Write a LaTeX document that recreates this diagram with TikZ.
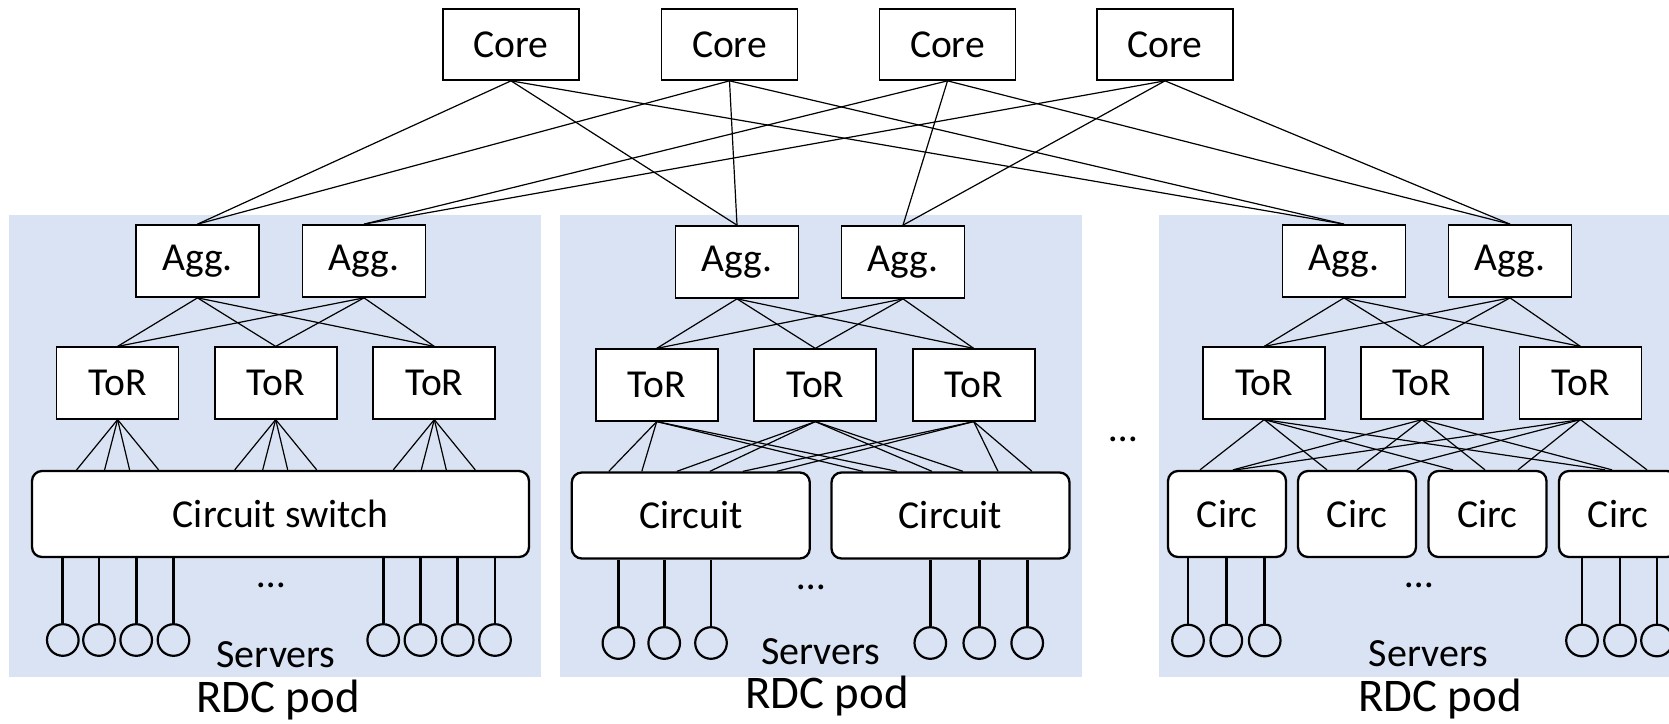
\documentclass[tikz,border=0pt]{standalone}
\usepackage{fontspec}
\setmainfont{Carlito}
\usetikzlibrary{calc}
\definecolor{podfill}{RGB}{218,227,243}

\begin{document}
\begin{tikzpicture}[x=0.5pt,y=-0.5pt,
  box/.style={draw, fill=white, line width=0.85pt, inner sep=0pt, font=\fontsize{19.8}{24}\selectfont},
  corebox/.style={box, minimum width=68pt, minimum height=35.5pt},
  aggbox/.style={box, minimum width=61.5pt, minimum height=36pt},
  torbox/.style={box, minimum width=61pt, minimum height=35.75pt},
  csw/.style={box, rounded corners=5pt, line width=1.15pt, minimum height=43pt},
  srv/.style={circle, draw, line width=1.1pt, minimum size=15.8pt, inner sep=0pt},
  link/.style={line width=0.6pt},
  drop/.style={line width=1.4pt},
  lbl/.style={font=\fontsize{20}{24}\selectfont, inner sep=0pt},
  podlbl/.style={font=\fontsize{23.4}{28}\selectfont, inner sep=0pt}
]
\useasboundingbox (0,0) rectangle (1669,723);
\clip (0,0) rectangle (1669,723);

% pod backgrounds
\fill[podfill] (9,215) rectangle (541,677);
\fill[podfill] (560,215) rectangle (1082,677);
\fill[podfill] (1159,215) rectangle (1675,677);

% core layer
\node[corebox] (c1) at (511,44.5) {Core};
\node[corebox] (c2) at (729.5,44.5) {Core};
\node[corebox] (c3) at (947.5,44.5) {Core};
\node[corebox] (c4) at (1165,44.5) {Core};

% aggregation layer
\node[aggbox] (a11) at (197.5,261) {Agg.};
\node[aggbox] (a12) at (364,261) {Agg.};
\node[aggbox] (a21) at (737,262) {Agg.};
\node[aggbox] (a22) at (903,262) {Agg.};
\node[aggbox] (a31) at (1344,261) {Agg.};
\node[aggbox] (a32) at (1510,261) {Agg.};

% top-of-rack layer
\node[torbox] (t11) at (117.6,383) {ToR};
\node[torbox] (t12) at (275.7,383) {ToR};
\node[torbox] (t13) at (434.3,383) {ToR};
\node[torbox] (t21) at (656.7,385) {ToR};
\node[torbox] (t22) at (815.3,385) {ToR};
\node[torbox] (t23) at (973.7,385) {ToR};
\node[torbox] (t31) at (1264.2,383) {ToR};
\node[torbox] (t32) at (1422,383) {ToR};
\node[torbox] (t33) at (1580.4,383) {ToR};

% circuit switches
\node[csw, minimum width=248.5pt] (s1) at (280.5,514) {Circuit switch};
\node[csw, minimum width=119pt] (s21) at (690.8,515.5) {Circuit};
\node[csw, minimum width=119pt] (s22) at (950.5,515.5) {Circuit};
\node[csw, minimum width=59pt] (s31) at (1227,514) {Circ};
\node[csw, minimum width=59pt] (s32) at (1357,514) {Circ};
\node[csw, minimum width=59pt] (s33) at (1487.5,514) {Circ};
\node[csw, minimum width=59pt] (s34) at (1618,514) {Circ};

% servers
\foreach \i/\x in {1/62.8,2/99,3/136.2,4/173.5} {
  \node[srv] (v1\i) at (\x,640) {};
  \draw[drop] (v1\i.north) -- (v1\i.north |- s1.south);
}
\foreach \i/\x in {5/383.2,6/420.4,7/457.7,8/495} {
  \node[srv] (v1\i) at (\x,640) {};
  \draw[drop] (v1\i.north) -- (v1\i.north |- s1.south);
}
\foreach \i/\x in {1/618.4,2/664.2,3/711} {
  \node[srv] (v2\i) at (\x,643) {};
  \draw[drop] (v2\i.north) -- (v2\i.north |- s21.south);
}
\foreach \i/\x in {4/930.3,5/979.3,6/1027.2} {
  \node[srv] (v2\i) at (\x,643) {};
  \draw[drop] (v2\i.north) -- (v2\i.north |- s22.south);
}
\foreach \i/\x in {1/1188,2/1226.3,3/1264.7} {
  \node[srv] (v3\i) at (\x,640.5) {};
  \draw[drop] (v3\i.north) -- (v3\i.north |- s31.south);
}
\foreach \i/\x in {4/1582,5/1620,6/1657} {
  \node[srv] (v3\i) at (\x,640.5) {};
  \draw[drop] (v3\i.north) -- (v3\i.north |- s34.south);
}

% core to aggregation
\foreach \c in {c1,c2}
  \foreach \a in {a11,a21,a31}
    \draw[link] (\c.south) -- (\a.north);
\foreach \c in {c3,c4}
  \foreach \a in {a12,a22,a32}
    \draw[link] (\c.south) -- (\a.north);

% aggregation to ToR inside each pod
\foreach \p in {1,2,3}
  \foreach \a in {1,2}
    \foreach \t in {1,2,3}
      \draw[link] (a\p\a.south) -- (t\p\t.north);

% pod 1: each ToR fans into the single circuit switch
\foreach \t in {1,2,3}
  \foreach \d in {-41,-13,12,41}
    \draw[link] (t1\t.south) -- ($(t1\t.south |- s1.north)+(\d,0)$);

% pod 2: two links from each ToR to each circuit switch
\foreach \t/\pa/\pb/\qa/\qb in {1/-82/-49/-87.5/-53.5, 2/-14/19/-18.5/12.5, 3/52/86/47.5/81.5} {
  \draw[link] (t2\t.south) -- ($(s21.north)+(\pa,0)$);
  \draw[link] (t2\t.south) -- ($(s21.north)+(\pb,0)$);
  \draw[link] (t2\t.south) -- ($(s22.north)+(\qa,0)$);
  \draw[link] (t2\t.south) -- ($(s22.north)+(\qb,0)$);
}

% pod 3: one link from each ToR to each circuit switch
\foreach \t/\pa/\pb/\pc/\pd in {1/-27/-30/-34.5/-13, 2/6/0/-2.5/-6, 3/9/31/30.5/29} {
  \draw[link] (t3\t.south) -- ($(s31.north)+(\pa,0)$);
  \draw[link] (t3\t.south) -- ($(s32.north)+(\pb,0)$);
  \draw[link] (t3\t.south) -- ($(s33.north)+(\pc,0)$);
  \draw[link] (t3\t.south) -- ($(s34.north)+(\pd,0)$);
}

% labels
\node[lbl] (e1) at (271.4,585.4) {\dots};
\node[lbl] (e2) at (811,587.6) {\dots};
\node[lbl] (e3) at (1419,585.4) {\dots};
\node[lbl] (e0) at (1123,439.6) {\dots};
\node[lbl] (sv1) at (276,655) {Servers};
\node[lbl] (sv2) at (820.6,651.4) {Servers};
\node[lbl] (sv3) at (1428.4,653.5) {Servers};
\node[podlbl] (r1) at (278,700) {RDC pod};
\node[podlbl] (r2) at (827,696) {RDC pod};
\node[podlbl] (r3) at (1440,699.5) {RDC pod};
\end{tikzpicture}
\end{document}
